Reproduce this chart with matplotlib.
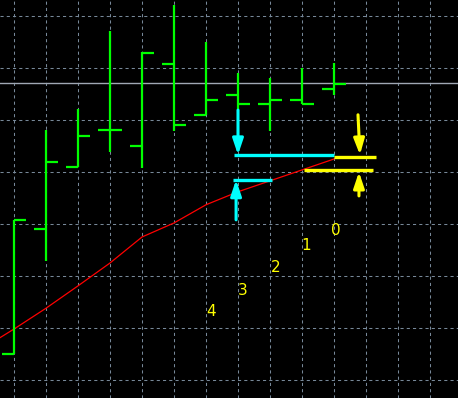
import numpy as np
import matplotlib
matplotlib.use("Agg")
import matplotlib.pyplot as plt

# OHLC bars (price units), one bar per grid column
bar_idx = np.arange(11)
opens = [105.0, 129.0, 141.0, 148.1, 145.0, 160.8, 151.0, 154.8, 153.1, 153.8, 156.0]
highs = [130.8, 148.1, 152.1, 167.1, 163.1, 172.1, 165.0, 159.0, 158.1, 160.0, 161.0]
lows = [105.0, 122.9, 141.0, 143.8, 140.8, 147.9, 151.0, 151.9, 147.9, 153.1, 154.8]
closes = [130.8, 141.9, 146.9, 148.1, 162.9, 149.0, 153.8, 153.1, 153.8, 153.1, 156.9]

# red moving average
ma_idx = [-1, 0, 1, 2, 3, 4, 5, 6, 7, 8, 9, 10]
ma_vals = [106.0, 109.8, 113.8, 118.1, 122.5, 127.5, 130.2, 133.7, 136.2, 138.3, 140.4, 142.5]

ref_level = 157.1

# cyan levels / arrows
cyan_upper = (6.875, 10.0, 143.3)
cyan_lower = (6.84, 8.06, 138.5)
cyan_arrow_down = ((7.0, 151.9), (7.0, 143.3))
cyan_arrow_up = ((6.94, 130.8), (6.94, 138.5))

# yellow levels / arrows
yellow_upper = (10.0, 11.31, 142.9)
yellow_lower = (9.06, 11.22, 140.4)
yellow_arrow_down = ((10.75, 151.0), (10.81, 143.3))
yellow_arrow_up = ((10.78, 135.4), (10.78, 140.0))

# wave labels
lbl_text = ["0", "1", "2", "3", "4"]
lbl_x = [10.06, 9.13, 8.19, 7.16, 6.16]
lbl_y = [128.7, 125.8, 121.7, 117.3, 113.1]

fig = plt.figure(figsize=(4.58, 3.98), dpi=100, facecolor="black")
ax = fig.add_axes([0, 0, 1, 1])
ax.set_facecolor("black")
ax.set_xlim(-0.4375, 13.875)
ax.set_ylim(100 - 18 / 5.2, 100 + 380 / 5.2)

ax.set_xticks(range(0, 14))
ax.set_yticks(range(100, 171, 10))
ax.grid(True, color="#778899", linestyle=(0, (3, 3)), linewidth=0.75)
ax.tick_params(length=0, labelbottom=False, labelleft=False)
for s in ax.spines.values():
    s.set_visible(False)

ax.axhline(ref_level, color="#a0a8b4", linewidth=1.0)

ax.plot(ma_idx, ma_vals, color="#ff0000", linewidth=0.9)

green = "#00ff00"
w = 0.375
ax.vlines(bar_idx, lows, highs, color=green, linewidth=1.6)
ax.hlines(opens, bar_idx - w, bar_idx, color=green, linewidth=1.6)
ax.hlines(closes, bar_idx, bar_idx + w, color=green, linewidth=1.6)

cyan = "#00ffff"
for x0, x1, y in [cyan_upper, cyan_lower]:
    ax.plot([x0, x1], [y, y], color=cyan, linewidth=2.4, solid_capstyle="butt")
for (xs, ys), (xe, ye) in [cyan_arrow_down, cyan_arrow_up]:
    ax.annotate("", xy=(xe, ye), xytext=(xs, ys),
                arrowprops=dict(arrowstyle="-|>,head_length=0.95,head_width=0.32",
                                color=cyan, linewidth=2.2, shrinkA=0, shrinkB=0,
                                mutation_scale=10))

yellow = "#ffff00"
for x0, x1, y in [yellow_upper, yellow_lower]:
    ax.plot([x0, x1], [y, y], color=yellow, linewidth=2.4, solid_capstyle="butt")
for (xs, ys), (xe, ye) in [yellow_arrow_down, yellow_arrow_up]:
    ax.annotate("", xy=(xe, ye), xytext=(xs, ys),
                arrowprops=dict(arrowstyle="-|>,head_length=0.95,head_width=0.32",
                                color=yellow, linewidth=2.2, shrinkA=0, shrinkB=0,
                                mutation_scale=10))

for t, x, y in zip(lbl_text, lbl_x, lbl_y):
    ax.text(x, y, t, color="#ffff00", fontsize=11, ha="center", va="center",
            family="DejaVu Sans")

fig.savefig("out.png", dpi=100, facecolor="black")
